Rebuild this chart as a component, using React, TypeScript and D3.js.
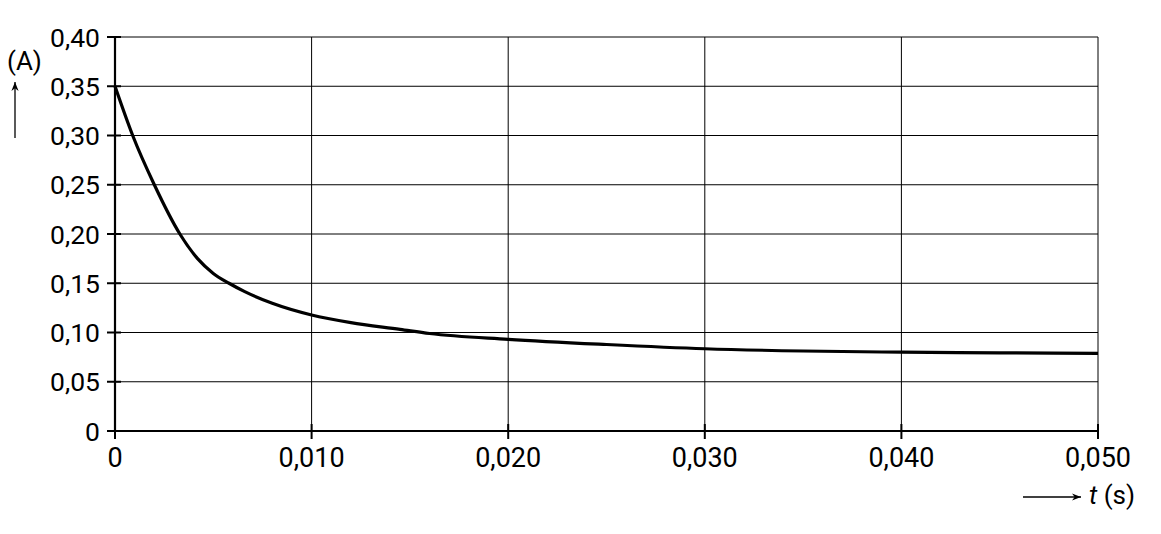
import * as d3 from 'd3';

const timeValues = [0, 0.0009, 0.002, 0.0033, 0.0042, 0.005, 0.0058, 0.0066, 0.008, 0.010, 0.012, 0.0145, 0.016, 0.020, 0.025, 0.030, 0.035, 0.040, 0.045, 0.050];
const currentValues = [0.35, 0.30, 0.25, 0.20, 0.175, 0.16, 0.15, 0.1415, 0.1297, 0.1178, 0.110, 0.1032, 0.099, 0.0931, 0.0878, 0.0835, 0.0812, 0.080, 0.0794, 0.0789];

const yTicks = [0, 0.05, 0.1, 0.15, 0.2, 0.25, 0.3, 0.35, 0.4];
const yTickLabels = ['0', '0,05', '0,10', '0,15', '0,20', '0,25', '0,30', '0,35', '0,40'];
const xTicks = [0, 0.01, 0.02, 0.03, 0.04, 0.05];
const xTickLabels = ['0', '0,010', '0,020', '0,030', '0,040', '0,050'];

const width = 1161;
const height = 534;
const margin = { left: 115, right: 63, top: 37, bottom: 103 };
const font = 'Roboto, "Noto Sans", sans-serif';

export default function App() {
  const x = d3.scaleLinear().domain([0, 0.05]).range([margin.left, width - margin.right]);
  const y = d3.scaleLinear().domain([0, 0.4]).range([height - margin.bottom, margin.top]);

  const points = timeValues.map((t, i) => [t, currentValues[i]] as [number, number]);
  const line = d3.line<[number, number]>()
    .x(d => x(d[0]))
    .y(d => y(d[1]))
    .curve(d3.curveMonotoneX);

  const x0 = x(0), x1 = x(0.05);
  const y0 = y(0), y1 = y(0.4);

  return (
    <svg width={width} height={height} style={{ position: 'absolute', left: 0, top: 0, background: '#fff' }}>
      <defs>
        <marker id="arrow" viewBox="0 0 10 10" refX="10" refY="5" markerWidth="9" markerHeight="9" orient="auto-start-reverse" markerUnits="userSpaceOnUse">
          <path d="M0,1 L10,5 L0,9 L3,5 Z" fill="#000" />
        </marker>
      </defs>

      {/* grid */}
      {yTicks.filter(v => v > 0).map(v => (
        <line key={'gy' + v} x1={x0} x2={x1} y1={y(v)} y2={y(v)} stroke="#000" strokeWidth={1} />
      ))}
      {xTicks.filter(v => v > 0).map(v => (
        <line key={'gx' + v} x1={x(v)} x2={x(v)} y1={y1} y2={y0} stroke="#000" strokeWidth={1} />
      ))}

      {/* axes */}
      <line x1={x0} x2={x0} y1={y1} y2={y0 + 1} stroke="#000" strokeWidth={2.2} />
      <line x1={x0 - 1} x2={x1} y1={y0} y2={y0} stroke="#000" strokeWidth={2.2} />

      {/* y ticks and labels */}
      {yTicks.map((v, i) => (
        <g key={'ty' + v}>
          <line x1={x0 - 8} x2={x0 + 6} y1={y(v)} y2={y(v)} stroke="#000" strokeWidth={2} />
          <text x={x0 - 15} y={y(v)} dy="0.36em" textAnchor="end" fontFamily={font} fontSize={26.5} fill="#000">
            {yTickLabels[i]}
          </text>
        </g>
      ))}

      {/* x ticks and labels */}
      {xTicks.map((v, i) => (
        <g key={'tx' + v}>
          <line x1={x(v)} x2={x(v)} y1={y0 - 7} y2={y0 + 8} stroke="#000" strokeWidth={2} />
          <text x={x(v)} y={467} textAnchor="middle" fontFamily={font} fontSize={27} fill="#000">
            {xTickLabels[i]}
          </text>
        </g>
      ))}

      {/* curve */}
      <path d={line(points) ?? ''} fill="none" stroke="#000" strokeWidth={3.2} strokeLinejoin="round" />

      {/* y unit */}
      <text x={7} y={70} fontFamily={font} fontSize={26} fill="#000">(A)</text>
      <line x1={15} x2={15} y1={138} y2={82} stroke="#000" strokeWidth={1.3} markerEnd="url(#arrow)" />

      {/* x unit */}
      <line x1={1023} x2={1081} y1={497} y2={497} stroke="#000" strokeWidth={1.3} markerEnd="url(#arrow)" />
      <text x={1089} y={504} fontFamily={font} fontSize={26} fill="#000">
        <tspan fontStyle="italic">t</tspan> (s)
      </text>
    </svg>
  );
}
